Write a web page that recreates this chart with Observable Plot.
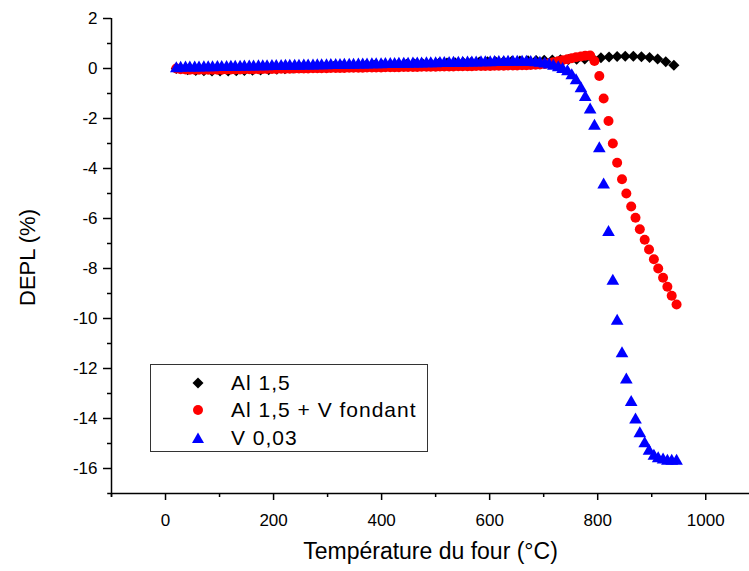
<!DOCTYPE html>
<html><head><meta charset="utf-8">
<script src="https://cdn.jsdelivr.net/npm/d3@7"></script>
<script src="https://cdn.jsdelivr.net/npm/@observablehq/plot@0.6"></script>
<style>
body{margin:0;background:#fff;}
#wrap{position:relative;width:749px;height:571px;font-family:"Liberation Sans",Arial,sans-serif;}
#legend{position:absolute;left:150px;top:364px;width:278px;height:88px;box-sizing:border-box;border:1px solid #333;background:#fff;}
.row{position:absolute;left:0;width:100%;height:26px;}
.row svg{position:absolute;left:40px;top:6px;}
.row span{position:absolute;left:80px;top:0;line-height:26px;font-size:21px;letter-spacing:1px;color:#000;white-space:nowrap;}
</style></head>
<body><div id="wrap"><div id="legend"></div></div>
<script>
// Furnace temperatures (°C) for "Al 1,5 + V fondant" and "V 0,03"
const tempsDense = [
  20, 28, 37, 45, 54, 62, 71, 79, 87, 96,
  104, 113, 121, 129, 138, 146, 155, 163, 172, 180,
  188, 197, 205, 214, 222, 230, 239, 247, 256, 264,
  273, 281, 289, 298, 306, 315, 323, 331, 340, 348,
  357, 365, 373, 382, 390, 399, 407, 416, 424, 432,
  441, 449, 458, 466, 474, 483, 491, 500, 508, 516,
  525, 533, 542, 550, 559, 567, 575, 584, 592, 601,
  609, 617, 626, 634, 643, 651, 660, 668, 676, 685,
  693, 702, 710, 718, 727, 735, 744, 752, 760, 769,
  777, 786, 794, 803, 811, 820, 828, 836, 845, 853,
  862, 870, 878, 887, 895, 904, 912, 921, 929, 937,
  946
];
const depl_V003 = [
  0.00, 0.02, 0.03, 0.03, 0.03, 0.03, 0.04, 0.04, 0.04, 0.05,
  0.05, 0.05, 0.06, 0.06, 0.06, 0.07, 0.07, 0.07, 0.08, 0.08,
  0.08, 0.09, 0.09, 0.09, 0.10, 0.10, 0.10, 0.10, 0.11, 0.11,
  0.11, 0.12, 0.12, 0.12, 0.13, 0.13, 0.13, 0.14, 0.14, 0.14,
  0.15, 0.15, 0.15, 0.16, 0.16, 0.16, 0.17, 0.17, 0.17, 0.18,
  0.18, 0.18, 0.19, 0.19, 0.19, 0.20, 0.20, 0.20, 0.21, 0.21,
  0.21, 0.22, 0.22, 0.22, 0.23, 0.23, 0.23, 0.24, 0.24, 0.24,
  0.25, 0.25, 0.25, 0.26, 0.26, 0.26, 0.26, 0.26, 0.25, 0.24,
  0.22, 0.19, 0.15, 0.10, 0.04, -0.03, -0.12, -0.28, -0.48, -0.80,
  -1.15, -1.65, -2.30, -3.20, -4.65, -6.55, -8.50, -10.10, -11.40, -12.45,
  -13.35, -14.05, -14.60, -15.00, -15.30, -15.50, -15.60, -15.65, -15.70, -15.70,
  -15.70
];
const depl_Al15V = [
  0.00, -0.03, -0.04, -0.05, -0.05, -0.05, -0.05, -0.05, -0.05, -0.05,
  -0.05, -0.04, -0.04, -0.04, -0.04, -0.03, -0.03, -0.03, -0.03, -0.02,
  -0.02, -0.02, -0.02, -0.01, -0.01, -0.01, 0.00, 0.00, 0.00, 0.00,
  0.01, 0.01, 0.01, 0.01, 0.02, 0.02, 0.02, 0.02, 0.03, 0.03,
  0.03, 0.03, 0.04, 0.04, 0.04, 0.04, 0.05, 0.05, 0.05, 0.05,
  0.06, 0.06, 0.06, 0.06, 0.07, 0.07, 0.07, 0.07, 0.08, 0.08,
  0.08, 0.08, 0.09, 0.09, 0.09, 0.09, 0.10, 0.10, 0.10, 0.10,
  0.11, 0.11, 0.11, 0.12, 0.12, 0.12, 0.13, 0.13, 0.14, 0.15,
  0.16, 0.18, 0.21, 0.25, 0.29, 0.33, 0.37, 0.41, 0.45, 0.48,
  0.51, 0.52, 0.30, -0.30, -1.20, -2.10, -3.00, -3.77, -4.43, -5.00,
  -5.52, -5.97, -6.43, -6.85, -7.24, -7.63, -8.00, -8.37, -8.73, -9.09,
  -9.44
];
// Furnace temperatures (°C) for "Al 1,5"
const tempsAl15 = [
  20, 41, 56, 71, 86, 101, 116, 131, 146, 161,
  176, 191, 206, 221, 236, 251, 266, 281, 296, 311,
  326, 341, 356, 371, 386, 401, 416, 431, 446, 461,
  476, 491, 506, 521, 536, 551, 566, 581, 596, 611,
  626, 641, 656, 671, 686, 701, 716, 731, 746, 761,
  776, 791, 806, 821, 836, 851, 866, 881, 896, 911,
  926, 941
];
const depl_Al15 = [
  0.00, -0.05, -0.08, -0.09, -0.10, -0.10, -0.10, -0.09, -0.08, -0.07,
  -0.06, -0.05, -0.03, -0.01, 0.01, 0.03, 0.05, 0.06, 0.07, 0.08,
  0.09, 0.10, 0.11, 0.12, 0.13, 0.14, 0.15, 0.16, 0.17, 0.18,
  0.19, 0.20, 0.21, 0.22, 0.23, 0.24, 0.25, 0.26, 0.27, 0.27,
  0.28, 0.29, 0.30, 0.31, 0.32, 0.33, 0.34, 0.35, 0.36, 0.37,
  0.38, 0.40, 0.43, 0.46, 0.48, 0.49, 0.49, 0.47, 0.44, 0.38,
  0.27, 0.13
];
const seriesNames = ["Al 1,5", "Al 1,5 + V fondant", "V 0,03"];
const seriesColors = ["#000000", "#ff0000", "#0000ff"];
const yMajorTicks = [-16, -14, -12, -10, -8, -6, -4, -2, 0, 2];
const yMinorTicks = [-15, -13, -11, -9, -7, -5, -3, -1, 1];
const xMajorTicks = [0, 200, 400, 600, 800, 1000];
const xMinorTicks = [-100, 100, 300, 500, 700, 900];
const xLabel = "Température du four (°C)";
const yLabel = "DEPL (%)";

const zip = (t, v) => t.map((T, i) => ({T, v: v[i]}));
const dAl = zip(tempsAl15, depl_Al15);
const dAlV = zip(tempsDense, depl_Al15V);
const dV = zip(tempsDense, depl_V003);

const font = "Liberation Sans, Arial, sans-serif";
const chart = Plot.plot({
  width: 749, height: 571,
  marginLeft: 111, marginRight: 0, marginTop: 18, marginBottom: 78,
  x: {domain: [-100, 1081]},
  y: {domain: [-17, 2]},
  style: {fontFamily: font, background: "white", color: "black", overflow: "visible"},
  marks: [
    Plot.axisY(yMajorTicks, {tickSize: 8, tickPadding: 6, tickFormat: d => String(d), fontSize: 17, label: null, strokeWidth: 1.5, style: {letterSpacing: "0.8px"}}),
    Plot.axisY(yMinorTicks, {tickSize: 4, tickFormat: () => "", label: null, strokeWidth: 1.5}),
    Plot.axisX(xMajorTicks, {tickSize: 7, tickPadding: 13, tickFormat: d => String(d), fontSize: 17, label: null, strokeWidth: 1.5, style: {letterSpacing: "0.8px"}}),
    Plot.axisX(xMinorTicks, {tickSize: 4, tickFormat: () => "", label: null, strokeWidth: 1.5}),
    Plot.ruleX([-100], {y1: -17.15, y2: 2, strokeWidth: 1.5}),
    Plot.ruleY([-17], {x1: -107, x2: 1081, strokeWidth: 1.5}),
    Plot.text([xLabel], {frameAnchor: "bottom", dy: 65, fontSize: 23, fill: "black", style: {letterSpacing: "0.8px"}}),
    Plot.text([yLabel], {frameAnchor: "left", rotate: -90, dx: -84, dy: 50, fontSize: 22, fill: "black", style: {letterSpacing: "0.8px"}}),
    Plot.dot(dAl, {x: "T", y: "v", symbol: "diamond2", r: 5, fill: seriesColors[0], stroke: "none"}),
    Plot.dot(dAlV, {x: "T", y: "v", symbol: "circle", r: 5, fill: seriesColors[1], stroke: "none"}),
    Plot.dot(dV, {x: "T", y: "v", symbol: "triangle", r: 4.7, fill: seriesColors[2], stroke: "none"})
  ]
});
document.getElementById("wrap").prepend(chart);

// Legend
const legend = document.getElementById("legend");
const shapes = [
  '<polygon points="7,1.5 12.5,7 7,12.5 1.5,7" fill="#000"/>',
  '<circle cx="7" cy="7" r="5" fill="#ff0000"/>',
  '<polygon points="7,1.5 13,12 1,12" fill="#0000ff"/>'
];
const rowTops = [5, 32, 60];
seriesNames.forEach((name, i) => {
  const row = document.createElement("div");
  row.className = "row";
  row.style.top = rowTops[i] + "px";
  row.innerHTML = `<svg width="14" height="14">${shapes[i]}</svg><span>${name}</span>`;
  legend.appendChild(row);
});
</script>
</body></html>
